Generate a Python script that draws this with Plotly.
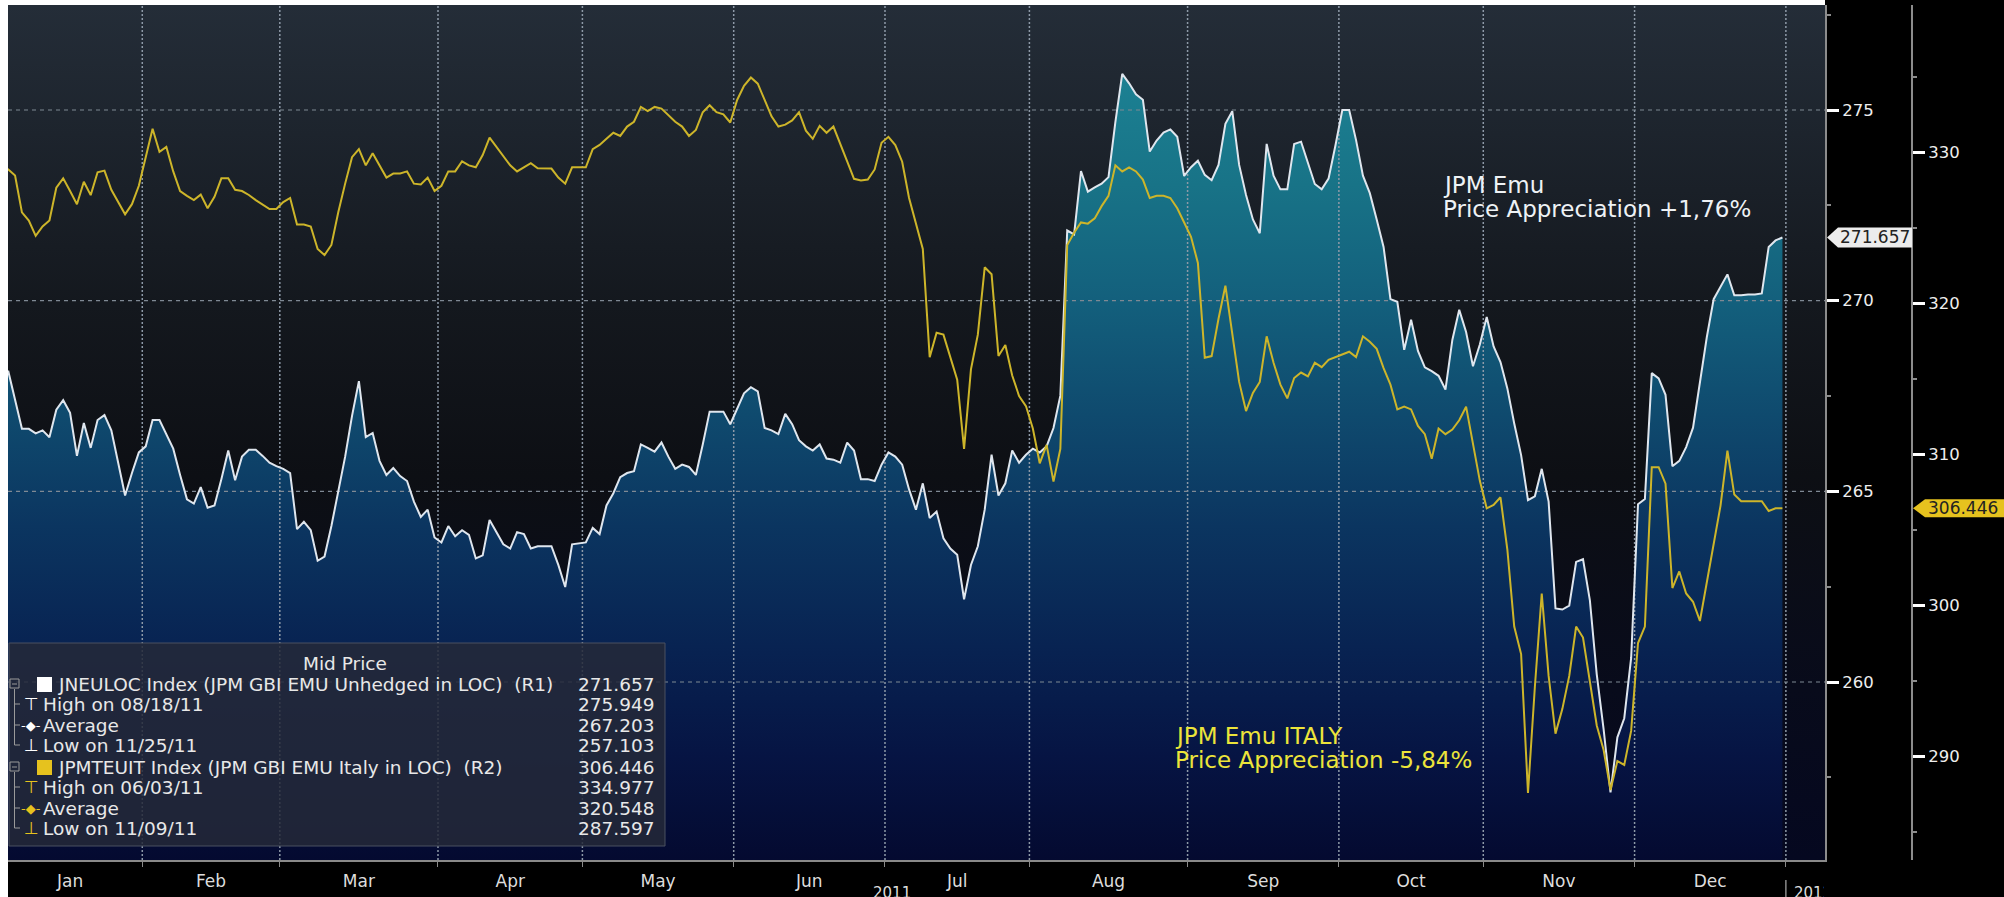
import pandas as pd
import plotly.graph_objects as go

# ---------------- DATA ----------------
# Trading days of 2011 (one value per business day, Jan 3 .. Dec 30)
dates = pd.bdate_range("2011-01-03", "2011-12-30")

# JNEULOC Index (JPM GBI EMU Unhedged in LOC) - right axis R1
jneuloc_jan = [267.60, 268.16, 267.40, 266.64, 266.64, 266.52, 266.60, 266.42, 267.14, 267.39, 267.06,
               265.93, 266.79, 266.14, 266.87, 267.00, 266.60, 265.75, 264.89, 265.48, 266.02]
jneuloc_feb = [266.18, 266.87, 266.87, 266.50, 266.12, 265.43, 264.79, 264.68, 265.11, 264.57, 264.63,
               265.32, 266.07, 265.29, 265.91, 266.09, 266.09, 265.93, 265.75, 265.66]
jneuloc_mar = [265.59, 265.48, 264.01, 264.20, 263.98, 263.18, 263.29, 264.09, 265.05, 265.91, 266.98,
               267.89, 266.42, 266.53, 265.80, 265.43, 265.61, 265.40, 265.27, 264.73, 264.33, 264.52, 263.79]
jneuloc_apr = [263.66, 264.09, 263.82, 263.98, 263.86, 263.24, 263.32, 264.25, 263.93, 263.61, 263.50,
               263.93, 263.88, 263.50, 263.56, 263.56, 263.56, 263.07, 262.49, 263.61, 263.64]
jneuloc_may = [263.66, 264.04, 263.88, 264.63, 264.95, 265.37, 265.48, 265.53, 266.23, 266.14, 266.04,
               266.28, 265.91, 265.59, 265.70, 265.64, 265.43, 266.23, 267.09, 267.09, 267.09, 266.76]
jneuloc_jun = [267.19, 267.57, 267.73, 267.62, 266.66, 266.60, 266.50, 267.03, 266.76, 266.34, 266.18,
               266.07, 266.23, 265.86, 265.83, 265.75, 266.28, 266.07, 265.32, 265.32, 265.27, 265.70]
jneuloc_jul = [266.02, 265.91, 265.70, 265.05, 264.52, 265.21, 264.30, 264.47, 263.77, 263.50, 263.34,
               262.17, 263.07, 263.56, 264.52, 265.96, 264.89, 265.21, 266.07, 265.75, 265.96]
jneuloc_aug = [266.12, 266.02, 266.18, 266.66, 267.51, 271.84, 271.74, 273.40, 272.86, 272.97, 273.07,
               273.24, 274.68, 275.949, 275.70, 275.41, 275.27, 273.91, 274.20, 274.41, 274.49, 274.30, 273.27]
jneuloc_sep = [273.50, 273.67, 273.30, 273.16, 273.56, 274.64, 274.97, 273.56, 272.77, 272.13, 271.77,
               274.11, 273.28, 272.92, 272.92, 274.11, 274.17, 273.64, 273.06, 272.92, 273.20, 274.07]
jneuloc_oct = [275.00, 275.00, 274.21, 273.28, 272.82, 272.13, 271.41, 270.04, 269.97, 268.71, 269.50,
               268.68, 268.25, 268.15, 268.03, 267.67, 268.97, 269.76, 269.18, 268.28, 268.85]
jneuloc_nov = [269.57, 268.80, 268.39, 267.70, 266.78, 265.95, 264.77, 264.87, 265.59, 264.73, 261.93,
               261.90, 262.00, 263.15, 263.22, 262.14, 260.20, 258.76, 257.103, 258.55, 259.05, 260.63]
jneuloc_dec = [264.66, 264.80, 268.10, 267.96, 267.53, 265.66, 265.80, 266.16, 266.67, 267.82, 269.04,
               270.04, 270.37, 270.69, 270.14, 270.14, 270.16, 270.16, 270.19, 271.41, 271.58, 271.657]

# JPMTEUIT Index (JPM GBI EMU Italy in LOC) - right axis R2
jpmteuit_jan = [328.76, 328.89, 328.49, 326.05, 325.51, 324.49, 325.11, 325.51, 327.68, 328.30, 327.46,
                326.59, 328.08, 327.19, 328.70, 328.81, 327.54, 326.70, 325.92, 326.59, 327.81]
jpmteuit_feb = [329.70, 331.59, 330.05, 330.38, 328.76, 327.46, 327.14, 326.86, 327.22, 326.32, 327.08,
                328.30, 328.30, 327.54, 327.46, 327.20, 326.86, 326.54, 326.27, 326.27]
jpmteuit_mar = [326.73, 327.00, 325.24, 325.24, 325.11, 323.62, 323.22, 323.89, 326.05, 327.95, 329.70,
                330.24, 329.16, 329.97, 329.16, 328.35, 328.62, 328.62, 328.76, 327.95, 327.89, 328.35, 327.46]
jpmteuit_apr = [327.81, 328.76, 328.76, 329.43, 329.16, 329.03, 329.84, 331.00, 330.38, 329.70, 329.16,
                328.76, 329.03, 329.30, 328.97, 328.97, 328.95, 328.35, 327.95, 329.03, 329.03]
jpmteuit_may = [329.03, 330.24, 330.51, 330.92, 331.32, 331.11, 331.73, 332.05, 333.03, 332.76, 333.03,
                332.92, 332.49, 332.05, 331.73, 331.11, 331.51, 332.68, 333.14, 332.68, 332.54, 332.00]
jpmteuit_jun = [333.49, 334.43, 334.977, 334.57, 333.49, 332.41, 331.73, 331.86, 332.14, 332.68, 331.46,
                330.92, 331.78, 331.32, 331.73, 330.51, 329.43, 328.27, 328.16, 328.22, 328.89, 330.65]
jpmteuit_jul = [331.05, 330.50, 329.40, 327.00, 325.38, 323.62, 316.46, 318.08, 317.95, 316.46, 314.97,
                310.38, 315.65, 317.95, 322.41, 321.95, 316.54, 317.27, 315.24, 313.89, 313.22]
jpmteuit_aug = [311.73, 309.43, 310.65, 308.22, 310.38, 323.89, 324.70, 325.38, 325.30, 325.65, 326.46,
                327.14, 329.16, 328.76, 329.03, 328.76, 328.22, 327.00, 327.14, 327.14, 327.00, 326.32, 325.38]
jpmteuit_sep = [324.43, 322.70, 316.42, 316.53, 319.00, 321.19, 317.91, 314.82, 312.89, 314.09, 314.82,
                317.84, 316.09, 314.64, 313.73, 315.08, 315.44, 315.19, 316.09, 315.80, 316.28, 316.46]
jpmteuit_oct = [316.64, 316.82, 316.46, 317.84, 317.48, 317.01, 315.73, 314.64, 313.00, 313.18, 313.00,
                311.91, 311.36, 309.73, 311.73, 311.36, 311.66, 312.28, 313.18, 310.63, 308.27]
jpmteuit_nov = [306.45, 306.67, 307.18, 303.72, 298.62, 296.80, 287.597, 294.62, 300.81, 295.35, 291.53,
                293.17, 295.35, 298.62, 297.89, 294.98, 292.07, 290.44, 287.80, 289.71, 289.46, 291.71]
jpmteuit_dec = [297.53, 298.62, 309.17, 309.17, 308.08, 301.17, 302.27, 300.81, 300.26, 298.99, 301.54,
                304.09, 306.63, 310.27, 307.36, 306.92, 306.92, 306.92, 306.92, 306.27, 306.45, 306.446]

month_labels = ["Jan", "Feb", "Mar", "Apr", "May", "Jun", "Jul", "Aug", "Sep", "Oct", "Nov", "Dec"]
r1_ticks = [260, 265, 270, 275]
r1_minor = [257.5, 262.5, 267.5, 272.5, 277.5]
r2_ticks = [290, 300, 310, 320, 330]
r2_minor = [285, 295, 305, 315, 325, 335]

legend_header = "Mid Price"
legend_labels = ["JNEULOC Index (JPM GBI EMU Unhedged in LOC)  (R1)", "High on 08/18/11", "Average",
                 "Low on 11/25/11", "JPMTEUIT Index (JPM GBI EMU Italy in LOC)  (R2)", "High on 06/03/11",
                 "Average", "Low on 11/09/11"]
legend_values = ["271.657", "275.949", "267.203", "257.103", "306.446", "334.977", "320.548", "287.597"]

note_emu = ["JPM Emu", "Price Appreciation +1,76%"]
note_italy = ["JPM Emu ITALY", "Price Appreciation -5,84%"]

# ---------------- BUILD ----------------
r1 = (jneuloc_jan + jneuloc_feb + jneuloc_mar + jneuloc_apr + jneuloc_may + jneuloc_jun +
      jneuloc_jul + jneuloc_aug + jneuloc_sep + jneuloc_oct + jneuloc_nov + jneuloc_dec)
r2 = (jpmteuit_jan + jpmteuit_feb + jpmteuit_mar + jpmteuit_apr + jpmteuit_may + jpmteuit_jun +
      jpmteuit_jul + jpmteuit_aug + jpmteuit_sep + jpmteuit_oct + jpmteuit_nov + jpmteuit_dec)
xi = list(range(len(dates)))
date_txt = [d.strftime("%m/%d/%y") for d in dates]

# month boundaries (between last day of a month and first of next) on business-day axis
firsts = []
for m in range(1, 13):
    firsts.append(next(i for i, d in enumerate(dates) if d.month == m))
bounds = [f - 0.5 for f in firsts] + [len(dates) - 0.5]
centers = [(bounds[k] + bounds[k + 1]) / 2 for k in range(12)]

W, H = 2004, 897
ML, MT, MR, MB = 8, 5, 14, 37
PW, PH = W - ML - MR, H - MT - MB
PLOT_RIGHT, R2_X = 1825, 1912


def px_x(px):
    return (px - ML) / PW


def px_y(py):
    return (H - MB - py) / PH


X_RANGE = [0.974, 265.19]
R1_RANGE = [255.332, 277.754]
R2_RANGE = [283.16, 339.78]

FONT = "DejaVu Sans, Verdana, sans-serif"
YELLOW = "#e6c21e"

fig = go.Figure()

# background gradient of the plotting area
fig.add_trace(go.Scatter(
    x=[X_RANGE[0] - 5, X_RANGE[1] + 5], y=[R1_RANGE[1] + 1] * 2, mode="lines",
    line=dict(width=0), fill="tozeroy", hoverinfo="skip", showlegend=False,
    fillgradient=dict(type="vertical", start=R1_RANGE[0], stop=R1_RANGE[1],
                      colorscale=[[0, "#050820"], [0.2, "#080b1b"], [0.45, "#0d0f14"],
                                  [0.65, "#14181e"], [0.85, "#1d242d"], [1, "#242d38"]])))

# area under JNEULOC
fig.add_trace(go.Scatter(
    x=xi, y=r1, mode="lines", line=dict(width=0, color="rgba(0,0,0,0)"), fill="tozeroy",
    hoverinfo="skip", showlegend=False,
    fillgradient=dict(type="vertical", start=R1_RANGE[0], stop=R1_RANGE[1],
                      colorscale=[[0, "#040a30"], [0.12, "#061443"], [0.25, "#082352"],
                                  [0.39, "#0b3560"], [0.52, "#0f4a6e"], [0.65, "#135f7c"],
                                  [0.79, "#187387"], [0.92, "#1c8193"], [1, "#1e8796"]])))

# grid lines (drawn as traces so they sit above the filled area)
vx, vy = [], []
for b in bounds[1:]:
    vx += [b, b, None]
    vy += [R1_RANGE[0], R1_RANGE[1], None]
fig.add_trace(go.Scatter(x=vx, y=vy, mode="lines", hoverinfo="skip", showlegend=False,
                         line=dict(color="#8e9aa8", width=1.5, dash="2px,2px")))
hx, hy = [], []
for t in r1_ticks:
    hx += [X_RANGE[0], X_RANGE[1], None]
    hy += [t, t, None]
fig.add_trace(go.Scatter(x=hx, y=hy, mode="lines", hoverinfo="skip", showlegend=False,
                         line=dict(color="#7f8994", width=1.2, dash="4px,4px")))

# series lines
fig.add_trace(go.Scatter(x=xi, y=r1, mode="lines", name="JNEULOC Index",
                         line=dict(color="#dfe6ee", width=2), customdata=date_txt,
                         hovertemplate="%{customdata}: %{y:.3f}<extra>JNEULOC</extra>"))
fig.add_trace(go.Scatter(x=xi, y=r2, mode="lines", name="JPMTEUIT Index", yaxis="y2",
                         line=dict(color="#cdb52a", width=2), customdata=date_txt,
                         hovertemplate="%{customdata}: %{y:.3f}<extra>JPMTEUIT</extra>"))

axis_font = dict(family=FONT, size=16.5, color="#eeeeee")
fig.update_layout(
    width=W, height=H, margin=dict(l=ML, r=MR, t=MT, b=MB, pad=0),
    paper_bgcolor="#000000", plot_bgcolor="#000000", showlegend=False,
    xaxis=dict(domain=[0, px_x(PLOT_RIGHT)], range=X_RANGE, tickmode="array", tickvals=centers,
               ticktext=month_labels, ticks="", showgrid=False, zeroline=False, showline=True,
               linecolor="#8a8a8a", linewidth=2, ticklabelstandoff=5,
               tickfont=dict(family=FONT, size=17, color="#dddddd"),
               minor=dict(tickmode="array", tickvals=bounds, ticks="outside", ticklen=5,
                          tickcolor="#8a8a8a", tickwidth=1, showgrid=False)),
    yaxis=dict(side="right", anchor="x", range=R1_RANGE, tickmode="array", tickvals=r1_ticks,
               ticks="outside", ticklen=12, tickwidth=3, tickcolor="#ffffff", showline=True,
               linecolor="#8c8c8c", linewidth=2, showgrid=False, zeroline=False, tickfont=axis_font,
               minor=dict(tickmode="array", tickvals=r1_minor, ticks="outside", ticklen=4,
                          tickcolor="#8c8c8c", tickwidth=1.5, showgrid=False)),
    yaxis2=dict(side="right", overlaying="y", anchor="free", position=px_x(R2_X), range=R2_RANGE,
                tickmode="array", tickvals=r2_ticks, ticks="outside", ticklen=12, tickwidth=3,
                tickcolor="#ffffff", showline=True, linecolor="#8c8c8c", linewidth=2, showgrid=False,
                zeroline=False, tickfont=axis_font,
                minor=dict(tickmode="array", tickvals=r2_minor, ticks="outside", ticklen=4,
                           tickcolor="#8c8c8c", tickwidth=1.5, showgrid=False)),
)

shapes = []
ann = []

# white page edges (left and top)
shapes.append(dict(type="rect", xref="paper", yref="paper", x0=px_x(0), x1=px_x(ML), y0=px_y(H), y1=px_y(0),
                   fillcolor="#ffffff", line=dict(width=0), layer="above"))
shapes.append(dict(type="rect", xref="paper", yref="paper", x0=px_x(0), x1=px_x(PLOT_RIGHT), y0=1,
                   y1=px_y(0), fillcolor="#ffffff", line=dict(width=0), layer="above"))

# last value tags
shapes.append(dict(type="path", xref="paper", yref="y", xsizemode="pixel", ysizemode="pixel",
                   xanchor=px_x(PLOT_RIGHT + 2), yanchor=r1[-1],
                   path="M0,0 L11,10 L85,10 L85,-10 L11,-10 Z", fillcolor="#ececec",
                   line=dict(width=0), layer="above"))
ann.append(dict(xref="paper", yref="y", x=px_x(PLOT_RIGHT + 13), y=r1[-1], xanchor="left",
                yanchor="middle", text=f"{r1[-1]:.3f}", showarrow=False,
                font=dict(family=FONT, size=17, color="#222222")))
shapes.append(dict(type="path", xref="paper", yref="y2", xsizemode="pixel", ysizemode="pixel",
                   xanchor=px_x(R2_X + 1), yanchor=r2[-1],
                   path="M0,0 L12,9 L140,9 L140,-9 L12,-9 Z", fillcolor=YELLOW,
                   line=dict(width=0), layer="above"))
ann.append(dict(xref="paper", yref="y2", x=px_x(R2_X + 14), y=r2[-1], xanchor="left",
                yanchor="middle", text=f"{r2[-1]:.3f}", showarrow=False,
                font=dict(family=FONT, size=17, color="#222222")))

# text notes on the chart
ann.append(dict(xref="paper", yref="paper", x=px_x(1441), y=px_y(185), xanchor="left", yanchor="middle",
                text=note_emu[0], showarrow=False, font=dict(family=FONT, size=23, color="#eef2f5")))
ann.append(dict(xref="paper", yref="paper", x=px_x(1441), y=px_y(209), xanchor="left", yanchor="middle",
                text=note_emu[1], showarrow=False, font=dict(family=FONT, size=23, color="#eef2f5")))
ann.append(dict(xref="paper", yref="paper", x=px_x(1173), y=px_y(736), xanchor="left", yanchor="middle",
                text=note_italy[0], showarrow=False, font=dict(family=FONT, size=23, color="#ece43a")))
ann.append(dict(xref="paper", yref="paper", x=px_x(1173), y=px_y(760), xanchor="left", yanchor="middle",
                text=note_italy[1], showarrow=False, font=dict(family=FONT, size=23, color="#ece43a")))

# year labels under the month axis
ann.append(dict(xref="x", yref="paper", x=(bounds[0] + bounds[-1]) / 2, y=px_y(882), xanchor="center",
                yanchor="top", text="2011", showarrow=False, font=dict(family=FONT, size=15, color="#dddddd")))
shapes.append(dict(type="line", xref="x", yref="paper", x0=bounds[-1], x1=bounds[-1], y0=px_y(880),
                   y1=px_y(H + 2), line=dict(color="#8a8a8a", width=1.5)))
ann.append(dict(xref="x", yref="paper", x=bounds[-1], xshift=6, y=px_y(882), xanchor="left",
                yanchor="top", text="2012", width=30, align="left", showarrow=False,
                font=dict(family=FONT, size=15, color="#dddddd")))

# ---- Bloomberg style legend panel ----
LX0, LX1, LY0, LY1 = 9, 665, 643, 846
shapes.append(dict(type="rect", xref="paper", yref="paper", x0=px_x(LX0), x1=px_x(LX1),
                   y0=px_y(LY1), y1=px_y(LY0), fillcolor="rgba(36,41,56,0.85)",
                   line=dict(color="#4a5060", width=1), layer="above"))
LFONT = dict(family=FONT, size=18.5, color="#e8e8e8")
ann.append(dict(xref="paper", yref="paper", x=px_x(345), y=px_y(663), xanchor="center", yanchor="middle",
                text=legend_header, showarrow=False, font=LFONT))
row_y = [684, 704, 725, 745, 767, 787, 808, 828]
icons = ["", "⊤", "-◆-", "⊥", "", "⊤", "-◆-", "⊥"]
for k, (lab, val) in enumerate(zip(legend_labels, legend_values)):
    y = row_y[k]
    col = "#ffffff" if k < 4 else YELLOW
    main = k % 4 == 0
    ann.append(dict(xref="paper", yref="paper", x=px_x(56 if main else 41), y=px_y(y), xanchor="left",
                    yanchor="middle", text=lab, showarrow=False, font=LFONT))
    ann.append(dict(xref="paper", yref="paper", x=px_x(657), y=px_y(y), xanchor="right",
                    yanchor="middle", text=val, showarrow=False, font=LFONT))
    if main:
        shapes.append(dict(type="rect", xref="paper", yref="paper", x0=px_x(37), x1=px_x(52),
                           y0=px_y(y + 8), y1=px_y(y - 7), fillcolor=col, line=dict(width=0),
                           layer="above"))
        shapes.append(dict(type="rect", xref="paper", yref="paper", x0=px_x(10), x1=px_x(19),
                           y0=px_y(y + 4), y1=px_y(y - 5), fillcolor="rgba(0,0,0,0)",
                           line=dict(color="#9a9a9a", width=1), layer="above"))
        shapes.append(dict(type="line", xref="paper", yref="paper", x0=px_x(12), x1=px_x(17),
                           y0=px_y(y), y1=px_y(y), line=dict(color="#9a9a9a", width=1), layer="above"))
        shapes.append(dict(type="line", xref="paper", yref="paper", x0=px_x(14.5), x1=px_x(14.5),
                           y0=px_y(y + 5), y1=px_y(row_y[k + 3]), line=dict(color="#9a9a9a", width=1),
                           layer="above"))
    else:
        shapes.append(dict(type="line", xref="paper", yref="paper", x0=px_x(14.5), x1=px_x(20),
                           y0=px_y(y), y1=px_y(y), line=dict(color="#9a9a9a", width=1), layer="above"))
        ann.append(dict(xref="paper", yref="paper", x=px_x(31), y=px_y(y), xanchor="center",
                        yanchor="middle", text=icons[k], showarrow=False,
                        font=dict(family=FONT, size=13 if "◆" in icons[k] else 17, color=col)))

fig.update_layout(shapes=shapes, annotations=ann)

fig.write_html("out.html", config={"displayModeBar": False},
               post_script="document.body.style.margin='0';document.body.style.overflow='hidden';")
